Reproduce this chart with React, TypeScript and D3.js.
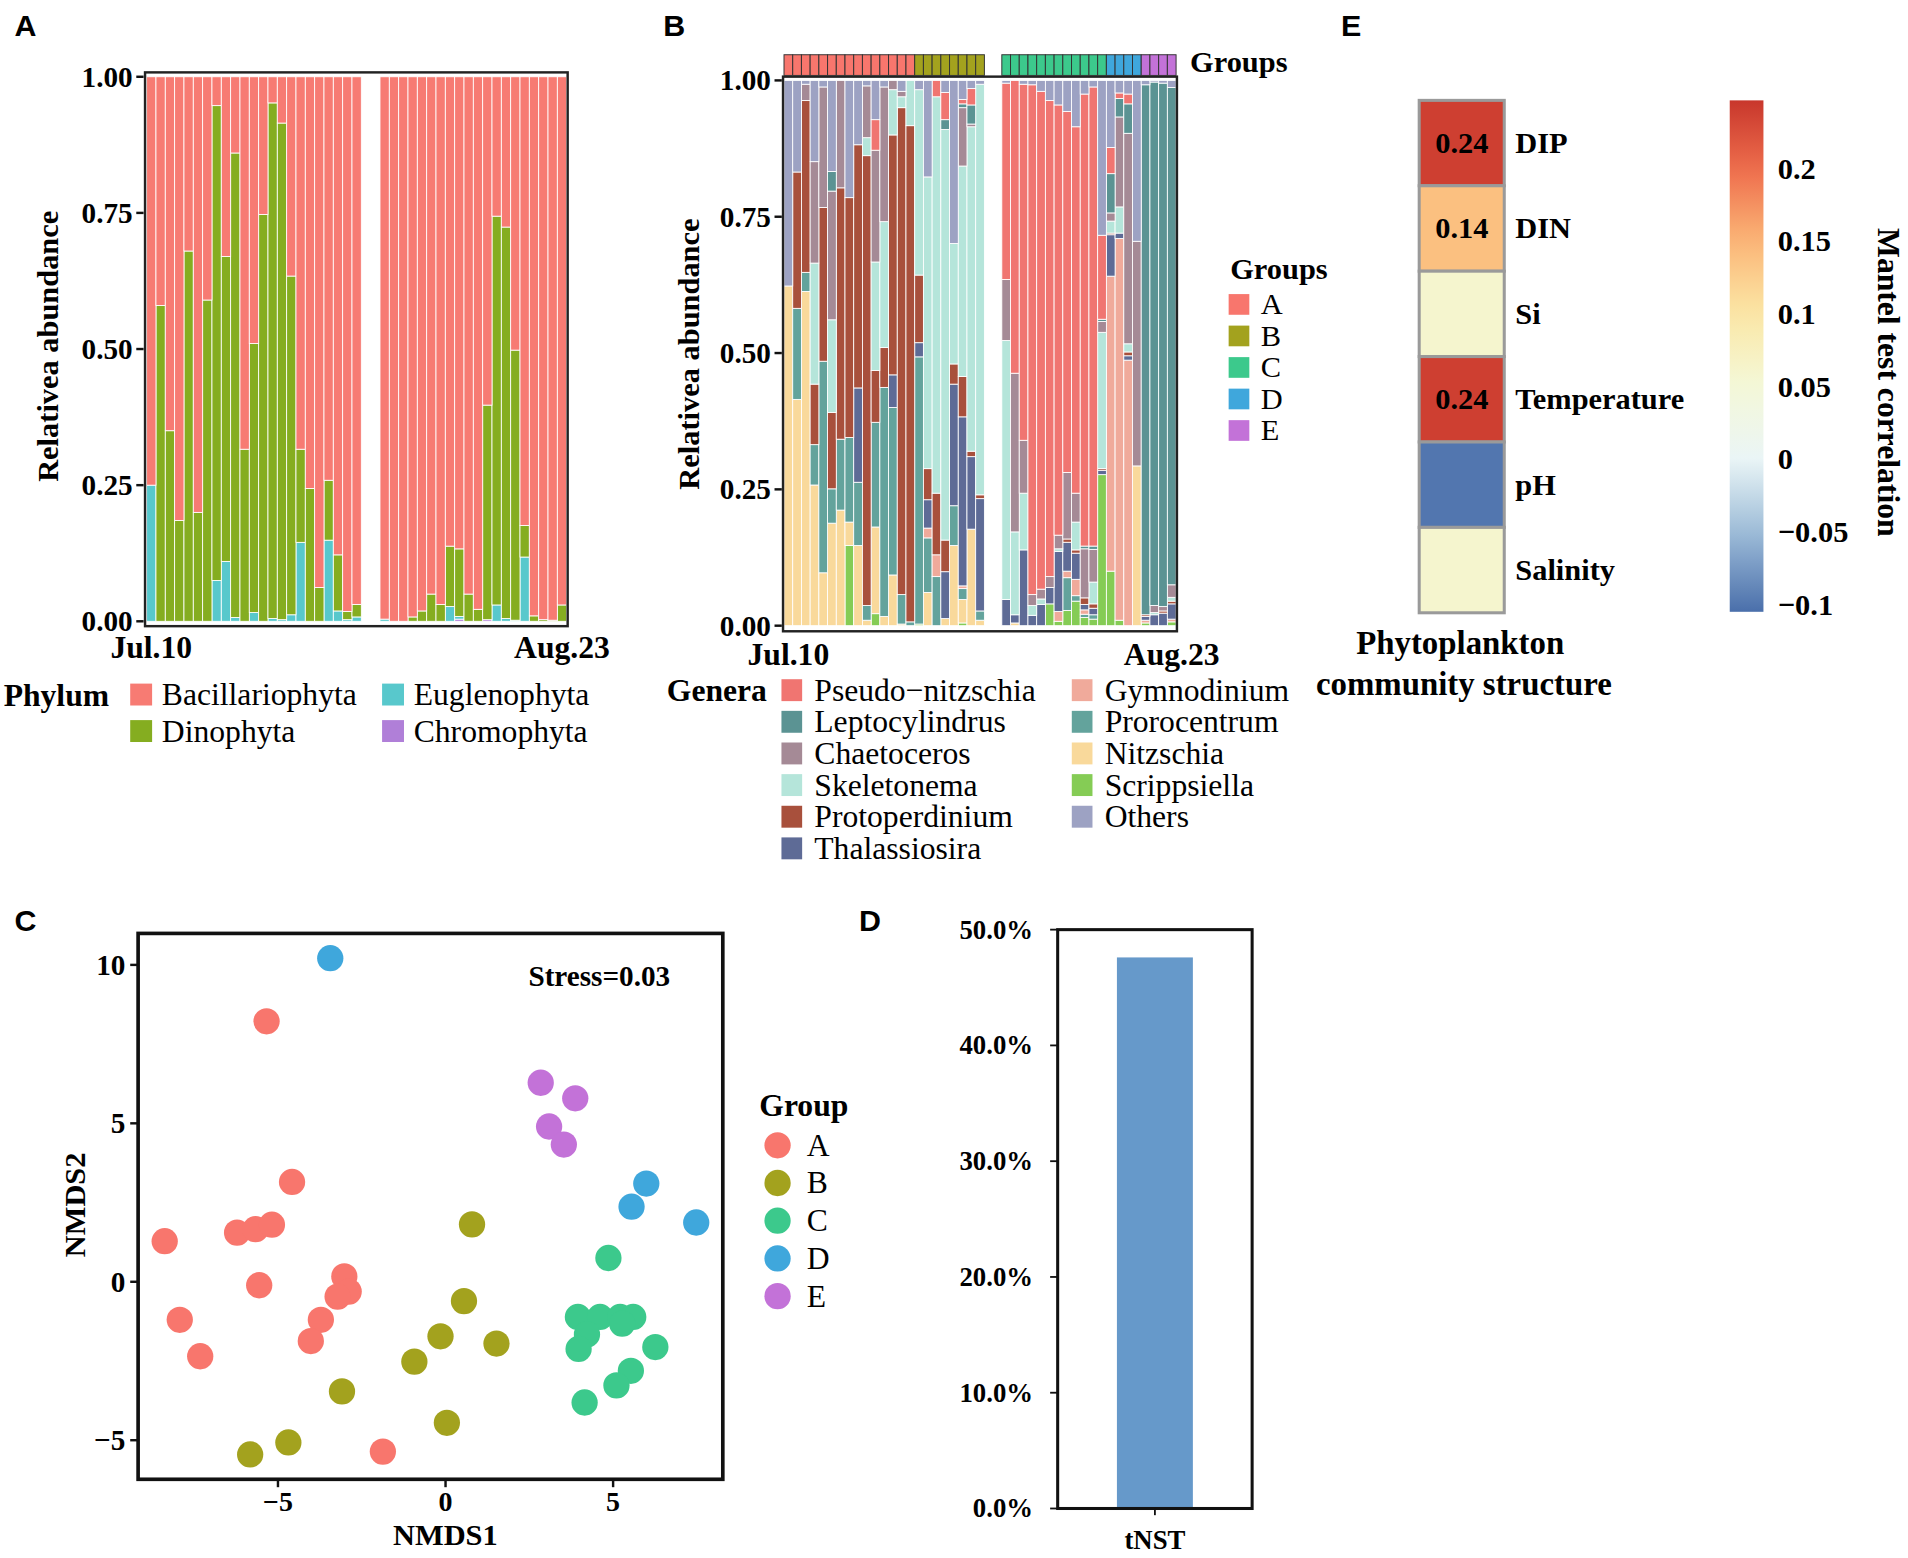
import React from "react";
import * as d3 from "d3";

// ---------- shared sample layout ----------
// 45 daily slots (Jul.10 - Aug.23); two days without samples
const sampleSlots = [
  0, 1, 2, 3, 4, 5, 6, 7, 8, 9, 10, 11, 12, 13, 14, 15, 16, 17, 18, 19, 20, 21, 22,
  25, 26, 27, 28, 29, 30, 31, 32, 33, 34, 35, 36, 37, 38, 39, 40, 41, 42, 43, 44,
];
const sampleGroups = "AAAAAAAAAAAAAAABBBBBBBBCCCCCCCCCCCCDDDDEEEE".split("");
const groupNames = ["A", "B", "C", "D", "E"];
const groupColors = ["#F8766D", "#A3A21E", "#3CC98C", "#3FA7DC", "#C372D8"];

// ---------- panel A: phylum ----------
const phylumNames = ["Bacillariophyta", "Dinophyta", "Euglenophyta", "Chromophyta"];
const phylumColors = ["#F77B73", "#85AD20", "#58C8CC", "#B07FD8"];
const dinophyta = [
  0, 0.58, 0.35, 0.185, 0.68, 0.2, 0.59, 0.872, 0.56, 0.853, 0.316, 0.494, 0.747, 0.947, 0.912, 0.622, 0.171, 0.244, 0.062, 0.11, 0.103, 0.015, 0.023,
  0, 0, 0, 0.008, 0.019, 0.05, 0.031, 0.111, 0.124, 0.05, 0.022, 0.394, 0.714, 0.719, 0.496, 0.058, 0.01, 0.003, 0.002, 0.03,
];
const euglenophyta = [
  0.25, 0, 0, 0, 0, 0, 0, 0.075, 0.11, 0.007, 0, 0.016, 0, 0.005, 0.003, 0.012, 0.145, 0, 0, 0.149, 0.019, 0.003, 0.008,
  0.004, 0, 0, 0, 0, 0, 0, 0.027, 0.005, 0, 0, 0, 0.03, 0.005, 0.002, 0.118, 0, 0, 0, 0,
];
const chromophyta = [
  0, 0, 0, 0, 0, 0, 0, 0, 0, 0, 0, 0, 0, 0, 0, 0, 0, 0, 0, 0, 0, 0, 0,
  0, 0, 0, 0, 0, 0, 0, 0, 0.004, 0, 0, 0.003, 0, 0, 0, 0, 0, 0, 0, 0,
];

// ---------- panel B: genera ----------
const scrippsiella = [
  0, 0, 0, 0, 0, 0, 0, 0.147, 0, 0, 0.022, 0, 0, 0, 0, 0.003, 0, 0, 0, 0, 0.005, 0, 0,
  0, 0, 0, 0, 0, 0.04, 0.008, 0.028, 0.045, 0.015, 0.012, 0.277, 0.1, 0.01, 0, 0, 0.005, 0, 0, 0.007,
];
const nitzschia = [
  0.623, 0.415, 0.613, 0.258, 0.097, 0.188, 0.212, 0.043, 0.147, 0.01, 0.159, 0.017, 0.093, 0.003, 0, 0, 0.061, 0, 0.013, 0.147, 0.043, 0.177, 0.01,
  0, 0.005, 0, 0, 0, 0, 0, 0, 0, 0, 0, 0, 0, 0, 0, 0.293, 0, 0, 0, 0,
];
const prorocentrum = [
  0, 0.167, 0.035, 0.074, 0.388, 0.063, 0.13, 0.155, 0.116, 0.027, 0.192, 0.42, 0.307, 0.054, 0.007, 0.49, 0.1, 0.09, 0, 0.073, 0.02, 0, 0.017,
  0, 0, 0, 0, 0, 0, 0, 0.06, 0.01, 0.006, 0.008, 0, 0, 0, 0, 0, 0, 0, 0, 0,
];
const gymnodinium = [
  0, 0, 0, 0, 0, 0, 0, 0, 0, 0, 0, 0, 0, 0, 0, 0, 0.018, 0.04, 0, 0, 0.005, 0, 0,
  0, 0, 0, 0, 0, 0, 0.018, 0.012, 0.03, 0.008, 0, 0, 0.541, 0.7, 0.487, 0, 0.005, 0, 0, 0.005,
];
const thalassiosira = [
  0, 0, 0, 0, 0, 0, 0, 0, 0.173, 0, 0, 0, 0.06, 0, 0, 0.026, 0.052, 0, 0.086, 0.223, 0.31, 0.133, 0.206,
  0.048, 0.015, 0.139, 0.019, 0.039, 0.03, 0.11, 0.053, 0.048, 0.01, 0.012, 0.008, 0.076, 0.01, 0.008, 0, 0.007, 0.02, 0.023, 0.028,
];
const protoperdinium = [
  0, 0.25, 0.315, 0.111, 0.282, 0.14, 0.461, 0.44, 0.446, 0.825, 0.095, 0.073, 0.44, 0.893, 0.91, 0.124, 0.057, 0.113, 0.058, 0.037, 0.074, 0.01, 0.007,
  0, 0, 0, 0, 0, 0, 0, 0.006, 0.006, 0.012, 0.008, 0.003, 0.003, 0, 0.007, 0, 0.003, 0, 0.004, 0.005,
];
const skeletonema = [
  0, 0, 0, 0.222, 0, 0.17, 0, 0, 0, 0.033, 0.199, 0.231, 0.083, 0.02, 0.083, 0.34, 0.535, 0.727, 0.753, 0.221, 0.386, 0.595, 0.753,
  0.475, 0.152, 0.104, 0.018, 0.01, 0, 0.005, 0, 0.051, 0, 0.04, 0.25, 0.022, 0.048, 0.015, 0, 0, 0.004, 0, 0.007,
];
const chaetoceros = [
  0, 0, 0.03, 0.186, 0.221, 0.236, 0.197, 0, 0, 0.095, 0.205, 0.247, 0.017, 0.01, 0, 0, 0, 0, 0, 0, 0.107, 0.005, 0,
  0.112, 0.291, 0.097, 0.02, 0.018, 0.02, 0.025, 0.122, 0.053, 0.09, 0.06, 0.02, 0.015, 0.165, 0.386, 0.412, 0, 0.013, 0.008, 0.023,
];
const leptocylindrus = [
  0, 0, 0, 0, 0, 0.036, 0, 0, 0, 0, 0, 0, 0, 0, 0, 0, 0, 0, 0.018, 0, 0.007, 0.035, 0,
  0, 0, 0, 0, 0, 0, 0, 0, 0, 0.005, 0.006, 0.004, 0.072, 0.034, 0.054, 0, 0.972, 0.96, 0.96, 0.912,
];
const pseudoNitzschia = [
  0, 0, 0, 0, 0, 0, 0, 0, 0, 0, 0.056, 0, 0, 0, 0, 0, 0, 0.03, 0.05, 0, 0.008, 0.03, 0,
  0.36, 0.537, 0.653, 0.935, 0.913, 0.873, 0.789, 0.662, 0.672, 0.829, 0.842, 0.154, 0.048, 0.01, 0.018, 0, 0, 0, 0, 0,
];

const genera = [
  { name: "Pseudo\u2212nitzschia", color: "#F07571", values: pseudoNitzschia },
  { name: "Leptocylindrus", color: "#5B9393", values: leptocylindrus },
  { name: "Chaetoceros", color: "#A58A96", values: chaetoceros },
  { name: "Skeletonema", color: "#B5E5DA", values: skeletonema },
  { name: "Protoperdinium", color: "#A8503C", values: protoperdinium },
  { name: "Thalassiosira", color: "#5E6B96", values: thalassiosira },
  { name: "Gymnodinium", color: "#F0AA9B", values: gymnodinium },
  { name: "Prorocentrum", color: "#63A39C", values: prorocentrum },
  { name: "Nitzschia", color: "#F9D99B", values: nitzschia },
  { name: "Scrippsiella", color: "#85CC55", values: scrippsiella },
];
const othersColor = "#9DA2C3";

// ---------- panel C: NMDS ----------
const nmdsA = [
  [-5.34, 8.22], [-4.58, 3.15], [-8.38, 1.28], [-6.22, 1.55], [-5.67, 1.66], [-5.18, 1.8], [-5.56, -0.11], [-3.02, 0.17],
  [-2.89, -0.31], [-3.22, -0.47], [-7.93, -1.2], [-3.72, -1.2], [-4.02, -1.87], [-7.32, -2.35], [-1.87, -5.36],
];
const nmdsB = [
  [0.79, 1.81], [0.55, -0.61], [-0.15, -1.72], [1.52, -1.95], [-0.93, -2.52], [-3.09, -3.46], [0.04, -4.45], [-4.69, -5.07], [-5.83, -5.45],
];
const nmdsC = [
  [4.86, 0.75], [3.95, -1.11], [4.61, -1.11], [5.21, -1.11], [5.6, -1.11], [5.27, -1.32], [4.22, -1.66], [3.97, -2.12],
  [6.26, -2.06], [5.53, -2.81], [5.1, -3.27], [4.15, -3.81],
];
const nmdsD = [[-3.44, 10.21], [5.99, 3.1], [5.55, 2.37], [7.48, 1.87]];
const nmdsE = [[2.84, 6.28], [3.87, 5.79], [3.09, 4.9], [3.53, 4.33]];
const nmdsGroups = [nmdsA, nmdsB, nmdsC, nmdsD, nmdsE];

// ---------- panel D ----------
const nstLabels = ["tNST"];
const nstValues = [0.476];

// ---------- panel E ----------
const envFactors = ["DIP", "DIN", "Si", "Temperature", "pH", "Salinity"];
const mantelR = [0.24, 0.14, 0.06, 0.24, -0.1, 0.06];
const mantelShown = ["0.24", "0.14", "", "0.24", "", ""];
const cbTicks = [0.2, 0.15, 0.1, 0.05, 0, -0.05, -0.1];

const serif = "'Liberation Serif','Times New Roman',Times,serif";
const sans = "'Liberation Sans',Arial,Helvetica,sans-serif";

const heatColor = d3
  .scaleLinear<string>()
  .domain([-0.105, -0.05, 0, 0.05, 0.1, 0.15, 0.2, 0.247])
  .range(["#4a6fab", "#9dbcd8", "#eaf5f6", "#f4f8d8", "#fbe7a6", "#fbb677", "#ee6c4c", "#c8372c"])
  .clamp(true);

function StackBars({ x, y, series, colors }: any) {
  return (
    <g>
      {series.map((s: any, k: number) => (
        <g key={k} fill={colors[k]}>
          {s.map((d: any, i: number) =>
            d[1] - d[0] > 0 ? (
              <rect
                key={i}
                x={x(d.data.slot)}
                y={y(d[1])}
                width={x.bandwidth()}
                height={y(d[0]) - y(d[1])}
                stroke="#fff"
                strokeWidth={0.7}
              />
            ) : null
          )}
        </g>
      ))}
    </g>
  );
}

function YAxisLeft({ y, ticks, x0, fmt, size = 24 }: any) {
  return (
    <g>
      {ticks.map((t: number) => (
        <g key={t}>
          <line x1={x0 - 6} x2={x0} y1={y(t)} y2={y(t)} stroke="#111" strokeWidth={2} />
          <text
            x={x0 - 9}
            y={y(t)}
            textAnchor="end"
            dominantBaseline="central"
            fontFamily={serif}
            fontWeight="bold"
            fontSize={size}
          >
            {fmt(t)}
          </text>
        </g>
      ))}
    </g>
  );
}

export default function App() {
  const fmt2 = d3.format(".2f");
  const minus = (s: string) => s.replace("-", "\u2212");

  // ----- panel A -----
  const xA = d3.scaleBand<number>().domain(d3.range(45)).range([120.5, 465.7]).padding(0);
  const yA = d3.scaleLinear().domain([0, 1]).range([510.4, 62.9]);
  const rowsA = sampleSlots.map((slot, i) => ({
    slot,
    Chromophyta: chromophyta[i],
    Euglenophyta: euglenophyta[i],
    Dinophyta: dinophyta[i],
    Bacillariophyta: 1 - chromophyta[i] - euglenophyta[i] - dinophyta[i],
  }));
  const stackOrderA = [...phylumNames].reverse();
  const seriesA = d3.stack<any>().keys(stackOrderA)(rowsA);
  const colorsA = stackOrderA.map((n) => phylumColors[phylumNames.indexOf(n)]);

  // ----- panel B -----
  const xB = d3.scaleBand<number>().domain(d3.range(45)).range([644.3, 966.5]).padding(0);
  const yB = d3.scaleLinear().domain([0, 1]).range([514, 65.9]);
  const rowsB = sampleSlots.map((slot, i) => {
    const r: any = { slot };
    let sum = 0;
    genera.forEach((g) => {
      r[g.name] = g.values[i];
      sum += g.values[i];
    });
    r.Others = Math.max(0, 1 - sum);
    return r;
  });
  const stackOrderB = [...genera.map((g) => g.name)].reverse().concat(["Others"]);
  const seriesB = d3.stack<any>().keys(stackOrderB)(rowsB);
  const colorsB = stackOrderB.map((n) => (n === "Others" ? othersColor : genera.find((g) => g.name === n)!.color));

  // ----- panel C -----
  const allPts = nmdsGroups.flat();
  const xExt = d3.extent(allPts, (d) => d[0]) as [number, number];
  const yExt = d3.extent(allPts, (d) => d[1]) as [number, number];
  const xPad = (xExt[1] - xExt[0]) * 0.05;
  const yPad = (yExt[1] - yExt[0]) * 0.05;
  const xC = d3.scaleLinear().domain([xExt[0] - xPad, xExt[1] + xPad]).range([113.5, 594]);
  const yC = d3.scaleLinear().domain([yExt[0] - yPad, yExt[1] + yPad]).range([1215.5, 766.9]);

  // ----- panel D -----
  const xD = d3.scaleBand().domain(nstLabels).range([869.2, 1029]).paddingInner(0).paddingOuter(0.78);
  const yD = d3.scaleLinear().domain([0, 0.5]).range([1239.5, 763.8]);

  // ----- panel E -----
  const yE = d3.scaleBand().domain(envFactors).range([82.3, 503.4]);
  const yCB = d3.scaleLinear().domain([-0.105, 0.247]).range([502.6, 82.3]);
  const gradStops = d3.range(0, 1.0001, 0.05).map((t) => ({ t, c: heatColor(yCB.domain()[0] + t * (yCB.domain()[1] - yCB.domain()[0])) }));

  const genLegend = [...genera.map((g) => ({ name: g.name, color: g.color })), { name: "Others", color: othersColor }];

  return (
    <div style={{ position: "absolute", left: 0, top: 0, background: "#fff" }}>
      <svg width={1908} height={1558} viewBox="0 0 1568 1280" style={{ display: "block", background: "#fff" }}>
        <defs>
          <linearGradient id="cbGrad" x1="0" y1="1" x2="0" y2="0">
            {gradStops.map((s) => (
              <stop key={s.t} offset={s.t} stopColor={s.c} />
            ))}
          </linearGradient>
        </defs>

        {/* panel letters */}
        {[
          ["A", 12, 20],
          ["B", 545, 20],
          ["C", 12, 756],
          ["D", 706, 756],
          ["E", 1102, 20],
        ].map(([t, x, yv]: any) => (
          <text key={t} x={x} y={yv} dominantBaseline="central" fontFamily={sans} fontWeight="bold" fontSize={25}>
            {t}
          </text>
        ))}

        {/* ================= A ================= */}
        <StackBars x={xA} y={yA} series={seriesA} colors={colorsA} />
        <rect x={119.2} y={59.3} width={347.3} height={455.1} fill="none" stroke="#222" strokeWidth={2} />
        <YAxisLeft y={yA} ticks={[0, 0.25, 0.5, 0.75, 1]} x0={118} fmt={fmt2} />
        <text
          transform={`translate(39.7,284.4) rotate(-90)`}
          textAnchor="middle"
          dominantBaseline="central"
          fontFamily={serif}
          fontWeight="bold"
          fontSize={25}
        >
          Relativea abundance
        </text>
        <text x={xA(0)! + xA.bandwidth() / 2} y={532} textAnchor="middle" dominantBaseline="central" fontFamily={serif} fontWeight="bold" fontSize={26}>
          Jul.10
        </text>
        <text x={xA(44)! + xA.bandwidth() / 2} y={532} textAnchor="middle" dominantBaseline="central" fontFamily={serif} fontWeight="bold" fontSize={26}>
          Aug.23
        </text>
        <text x={3} y={571} dominantBaseline="central" fontFamily={serif} fontWeight="bold" fontSize={26}>
          Phylum
        </text>
        {phylumNames.map((n, i) => {
          const kx = i < 2 ? 107 : 314;
          const ky = i % 2 === 0 ? 561.6 : 591.6;
          return (
            <g key={n}>
              <rect x={kx} y={ky} width={18} height={18} fill={phylumColors[i]} />
              <text x={kx + 26} y={ky + 9} dominantBaseline="central" fontFamily={serif} fontSize={26}>
                {n}
              </text>
            </g>
          );
        })}

        {/* ================= B ================= */}
        <StackBars x={xB} y={yB} series={seriesB} colors={colorsB} />
        <rect x={643.5} y={62.8} width={323.7} height={455.8} fill="none" stroke="#222" strokeWidth={2} />
        {sampleSlots.map((slot, i) => (
          <rect
            key={i}
            x={xB(slot)}
            y={44.8}
            width={xB.bandwidth()}
            height={17}
            fill={groupColors[groupNames.indexOf(sampleGroups[i])]}
            stroke="#333"
            strokeWidth={0.8}
          />
        ))}
        <text x={978} y={51} dominantBaseline="central" fontFamily={serif} fontWeight="bold" fontSize={25}>
          Groups
        </text>
        <YAxisLeft y={yB} ticks={[0, 0.25, 0.5, 0.75, 1]} x0={642.5} fmt={fmt2} />
        <text
          transform={`translate(566.3,290.8) rotate(-90)`}
          textAnchor="middle"
          dominantBaseline="central"
          fontFamily={serif}
          fontWeight="bold"
          fontSize={25}
        >
          Relativea abundance
        </text>
        <text x={xB(0)! + xB.bandwidth() / 2} y={538} textAnchor="middle" dominantBaseline="central" fontFamily={serif} fontWeight="bold" fontSize={26}>
          Jul.10
        </text>
        <text x={xB(44)! + xB.bandwidth() / 2} y={538} textAnchor="middle" dominantBaseline="central" fontFamily={serif} fontWeight="bold" fontSize={26}>
          Aug.23
        </text>
        <text x={548} y={567} dominantBaseline="central" fontFamily={serif} fontWeight="bold" fontSize={26}>
          Genera
        </text>
        {genLegend.map((g, i) => {
          const col = i < 6 ? 0 : 1;
          const row = i < 6 ? i : i - 6;
          const kx = col === 0 ? 642.2 : 880.8;
          const cy = 567 + row * 26;
          return (
            <g key={g.name}>
              <rect x={kx} y={cy - 9} width={17} height={18} fill={g.color} />
              <text x={kx + 27} y={cy} dominantBaseline="central" fontFamily={serif} fontSize={26}>
                {g.name}
              </text>
            </g>
          );
        })}
        <text x={1011} y={221} dominantBaseline="central" fontFamily={serif} fontWeight="bold" fontSize={25}>
          Groups
        </text>
        {groupNames.map((g, i) => (
          <g key={g}>
            <rect x={1009.7} y={250 + i * 25.9 - 8.5} width={17} height={17} fill={groupColors[i]} />
            <text x={1036} y={250 + i * 25.9} dominantBaseline="central" fontFamily={serif} fontSize={25}>
              {g}
            </text>
          </g>
        ))}

        {/* ================= C ================= */}
        {nmdsGroups.map((pts, gi) =>
          pts.map((p, i) => <circle key={`${gi}-${i}`} cx={xC(p[0])} cy={yC(p[1])} r={10.8} fill={groupColors[gi]} />)
        )}
        <rect x={113.5} y={766.9} width={594 - 113.5} height={1215.5 - 766.9} fill="none" stroke="#111" strokeWidth={3} />
        {[-5, 0, 5].map((t) => (
          <g key={t}>
            <line x1={xC(t)} x2={xC(t)} y1={1215.5} y2={1222} stroke="#111" strokeWidth={2} />
            <text x={xC(t)} y={1234} textAnchor="middle" dominantBaseline="central" fontFamily={serif} fontWeight="bold" fontSize={23}>
              {minus(String(t))}
            </text>
          </g>
        ))}
        {[-5, 0, 5, 10].map((t) => (
          <g key={t}>
            <line x1={107} x2={113.5} y1={yC(t)} y2={yC(t)} stroke="#111" strokeWidth={2} />
            <text x={103} y={yC(t)} textAnchor="end" dominantBaseline="central" fontFamily={serif} fontWeight="bold" fontSize={24}>
              {minus(String(t))}
            </text>
          </g>
        ))}
        <text x={366} y={1261} textAnchor="middle" dominantBaseline="central" fontFamily={serif} fontWeight="bold" fontSize={25}>
          NMDS1
        </text>
        <text
          transform={`translate(62,990) rotate(-90)`}
          textAnchor="middle"
          dominantBaseline="central"
          fontFamily={serif}
          fontWeight="bold"
          fontSize={25}
        >
          NMDS2
        </text>
        <text x={492.5} y={802} textAnchor="middle" dominantBaseline="central" fontFamily={serif} fontWeight="bold" fontSize={24}>
          Stress=0.03
        </text>
        <text x={624} y={908} dominantBaseline="central" fontFamily={serif} fontWeight="bold" fontSize={26}>
          Group
        </text>
        {groupNames.map((g, i) => (
          <g key={g}>
            <circle cx={639} cy={941 + i * 31} r={10.8} fill={groupColors[i]} />
            <text x={663} y={941 + i * 31} dominantBaseline="central" fontFamily={serif} fontSize={26}>
              {g}
            </text>
          </g>
        ))}

        {/* ================= D ================= */}
        {nstLabels.map((l, i) => (
          <rect key={l} x={xD(l)} y={yD(nstValues[i])} width={xD.bandwidth()} height={yD(0) - yD(nstValues[i])} fill="#6699CA" />
        ))}
        <rect x={869.2} y={763.8} width={1029 - 869.2} height={1239.5 - 763.8} fill="none" stroke="#111" strokeWidth={2.5} />
        {[0, 0.1, 0.2, 0.3, 0.4, 0.5].map((t) => (
          <g key={t}>
            <line x1={863} x2={869.2} y1={yD(t)} y2={yD(t)} stroke="#111" strokeWidth={1.5} />
            <text x={849} y={yD(t)} textAnchor="end" dominantBaseline="central" fontFamily={serif} fontWeight="bold" fontSize={22}>
              {d3.format(".1%")(t)}
            </text>
          </g>
        ))}
        {nstLabels.map((l) => (
          <g key={l}>
            <line x1={xD(l)! + xD.bandwidth() / 2} x2={xD(l)! + xD.bandwidth() / 2} y1={1239.5} y2={1245} stroke="#111" strokeWidth={1.5} />
            <text x={xD(l)! + xD.bandwidth() / 2} y={1265} textAnchor="middle" dominantBaseline="central" fontFamily={serif} fontWeight="bold" fontSize={22}>
              {l}
            </text>
          </g>
        ))}

        {/* ================= E ================= */}
        {envFactors.map((f, i) => (
          <g key={f}>
            <rect x={1166.3} y={yE(f)} width={69.9} height={yE.bandwidth()} fill={heatColor(mantelR[i])} stroke="#9a9a9a" strokeWidth={2.5} />
            {mantelShown[i] && (
              <text x={1201.3} y={yE(f)! + yE.bandwidth() / 2} textAnchor="middle" dominantBaseline="central" fontFamily={serif} fontWeight="bold" fontSize={25}>
                {mantelShown[i]}
              </text>
            )}
            <text x={1245.3} y={yE(f)! + yE.bandwidth() / 2} dominantBaseline="central" fontFamily={serif} fontWeight="bold" fontSize={25}>
              {f}
            </text>
          </g>
        ))}
        <text x={1200} y={528.3} textAnchor="middle" dominantBaseline="central" fontFamily={serif} fontWeight="bold" fontSize={27}>
          Phytoplankton
        </text>
        <text x={1203} y={562.2} textAnchor="middle" dominantBaseline="central" fontFamily={serif} fontWeight="bold" fontSize={27}>
          community structure
        </text>
        <rect x={1421.5} y={82.3} width={27.7} height={502.6 - 82.3} fill="url(#cbGrad)" />
        {cbTicks.map((t) => (
          <text key={t} x={1461} y={yCB(t)} dominantBaseline="central" fontFamily={serif} fontWeight="bold" fontSize={25}>
            {t === 0 ? "0" : minus(String(t))}
          </text>
        ))}
        <text
          transform={`translate(1552,314) rotate(90)`}
          textAnchor="middle"
          dominantBaseline="central"
          fontFamily={serif}
          fontWeight="bold"
          fontSize={26}
        >
          Mantel test correlation
        </text>
      </svg>
    </div>
  );
}
